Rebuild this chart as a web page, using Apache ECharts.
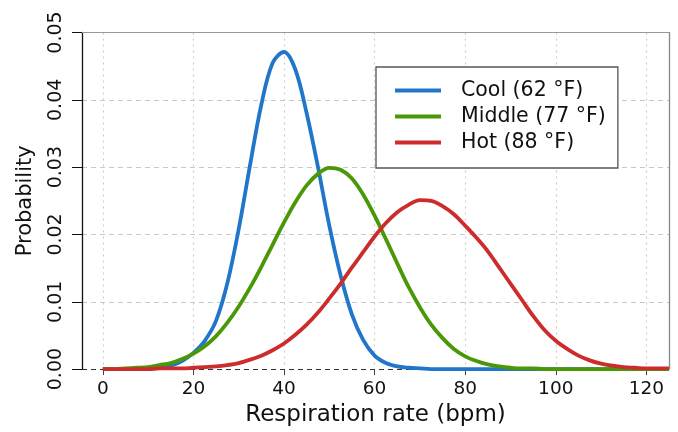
<!DOCTYPE html>
<html>
<head>
<meta charset="utf-8">
<script src="https://cdn.jsdelivr.net/npm/echarts@6/dist/echarts.min.js"></script>
<style>
  html, body { margin: 0; padding: 0; background: #fff; }
  #chart { width: 678px; height: 432px; }
</style>
</head>
<body>
<div id="chart"></div>
<script>
  // respiration rate (bpm), every 2.5
  const rates = [
    0, 2.5, 5, 7.5, 10, 12.5, 15, 17.5, 20, 22.5, 25, 27.5, 30, 32.5, 35, 37.5, 40, 42.5, 45, 47.5,
    50, 52.5, 55, 57.5, 60, 62.5, 65, 67.5, 70, 72.5, 75, 77.5, 80, 82.5, 85, 87.5, 90, 92.5, 95, 97.5,
    100, 102.5, 105, 107.5, 110, 112.5, 115, 117.5, 120, 122.5, 125
  ];
  // probabilities
  const cool = [
    0, 0, 0, 0, 0.0001, 0.0002, 0.0005, 0.0012, 0.0024, 0.0042, 0.0072, 0.0128, 0.0208, 0.0303, 0.0393, 0.0455, 0.0471, 0.0445, 0.0380, 0.0300,
    0.0213, 0.0139, 0.0081, 0.0043, 0.0020, 0.0009, 0.0004, 0.0002, 0.0001, 0, 0, 0, 0, 0, 0, 0, 0, 0, 0, 0,
    0, 0, 0, 0, 0, 0, 0, 0, 0, 0, 0
  ];
  const middle = [
    0, 0, 0.0001, 0.0002, 0.0003, 0.0006, 0.0009, 0.0015, 0.0023, 0.0034, 0.0049, 0.0069, 0.0093, 0.0121, 0.0152, 0.0185, 0.0218, 0.0248, 0.0273, 0.0290,
    0.0299, 0.0296, 0.0283, 0.0259, 0.0228, 0.0193, 0.0157, 0.0122, 0.0092, 0.0066, 0.0046, 0.0030, 0.0019, 0.0012, 0.0007, 0.0004, 0.0002, 0.0001, 0.0001, 0,
    0, 0, 0, 0, 0, 0, 0, 0, 0, 0, 0
  ];
  const hot = [
    0, 0, 0, 0, 0, 0.0001, 0.0001, 0.0001, 0.0002, 0.0003, 0.0004, 0.0006, 0.0009, 0.0014, 0.0020, 0.0028, 0.0038, 0.0051, 0.0066, 0.0084,
    0.0105, 0.0127, 0.0151, 0.0174, 0.0197, 0.0217, 0.0233, 0.0244, 0.0251, 0.0250, 0.0242, 0.0230, 0.0213, 0.0195, 0.0175, 0.0151, 0.0127, 0.0103, 0.0079, 0.0058,
    0.0042, 0.0030, 0.0020, 0.0013, 0.0008, 0.0005, 0.0003, 0.0002, 0.0001, 0.0001, 0.0001
  ];
  const seriesNames = ['Cool (62 °F)', 'Middle (77 °F)', 'Hot (88 °F)'];
  const seriesColors = ['#2276c9', '#4a9808', '#cc2c2c'];
  const xTicks = [0, 20, 40, 60, 80, 100, 120];

  const font = 'DejaVu Sans';
  const chart = echarts.init(document.getElementById('chart'), null, { renderer: 'canvas' });

  function curve(name, values, color) {
    return {
      name: name,
      type: 'line',
      data: rates.map(function (r, i) { return [r, values[i]]; }),
      showSymbol: false,
      smooth: 0.35,
      lineStyle: { color: color, width: 3.8 },
      itemStyle: { color: color },
      animation: false
    };
  }

  const option = {
    animation: false,
    backgroundColor: '#fff',
    textStyle: { fontFamily: font },
    grid: { left: 82, right: 9, top: 32.5, bottom: 57.5 },
    legend: {
      orient: 'vertical',
      left: 376,
      top: 67,
      padding: [13, 12, 15, 19],
      itemGap: 5,
      itemWidth: 46,
      itemHeight: 4,
      icon: 'rect',
      borderColor: '#555',
      borderWidth: 1.3,
      backgroundColor: '#fff',
      textStyle: { fontFamily: font, fontSize: 20.5, color: '#111', padding: [0, 0, 0, 15] },
      data: seriesNames
    },
    xAxis: [{
      type: 'value',
      min: -4.6,
      max: 125,
      name: 'Respiration rate (bpm)',
      nameLocation: 'middle',
      nameGap: 30,
      nameTextStyle: { fontFamily: font, fontSize: 23, color: '#111' },
      axisLine: { show: false, onZero: false },
      axisTick: { show: true, length: 6, customValues: xTicks, lineStyle: { color: '#444' } },
      axisLabel: { customValues: xTicks, fontSize: 18.5, color: '#111', margin: 11, fontFamily: font },
      splitLine: { show: true, lineStyle: { color: '#cccccc', type: [2, 4], width: 1.2 } }
    }, {
      type: 'value',
      position: 'top',
      min: -4.6,
      max: 125,
      axisLine: { show: true, onZero: false, lineStyle: { color: '#999', width: 1 } },
      axisTick: { show: false },
      axisLabel: { show: false },
      splitLine: { show: false }
    }],
    yAxis: [{
      type: 'value',
      min: 0,
      max: 0.05,
      interval: 0.01,
      name: 'Probability',
      nameLocation: 'middle',
      nameGap: 46,
      nameRotate: 90,
      nameTextStyle: { fontFamily: font, fontSize: 21, color: '#111' },
      axisLine: { show: true, onZero: false, lineStyle: { color: '#111', width: 1.3 } },
      axisTick: { show: true, length: 10, lineStyle: { color: '#111' } },
      axisLabel: {
        rotate: 90, fontSize: 19, color: '#111', margin: 16, fontFamily: font,
        formatter: function (v) { return v.toFixed(2); }
      },
      splitLine: {
        show: true,
        lineStyle: {
          color: ['#333', '#c8c8c8', '#c8c8c8', '#c8c8c8', '#c8c8c8', '#333'],
          type: [5, 4], width: 1.2
        }
      }
    }, {
      type: 'value',
      position: 'right',
      min: 0,
      max: 0.05,
      axisLine: { show: true, onZero: false, lineStyle: { color: '#888', width: 1.3 } },
      axisTick: { show: false },
      axisLabel: { show: false },
      splitLine: { show: false }
    }],
    series: [
      curve(seriesNames[0], cool, seriesColors[0]),
      curve(seriesNames[1], middle, seriesColors[1]),
      curve(seriesNames[2], hot, seriesColors[2])
    ]
  };

  chart.setOption(option);
</script>
</body>
</html>
